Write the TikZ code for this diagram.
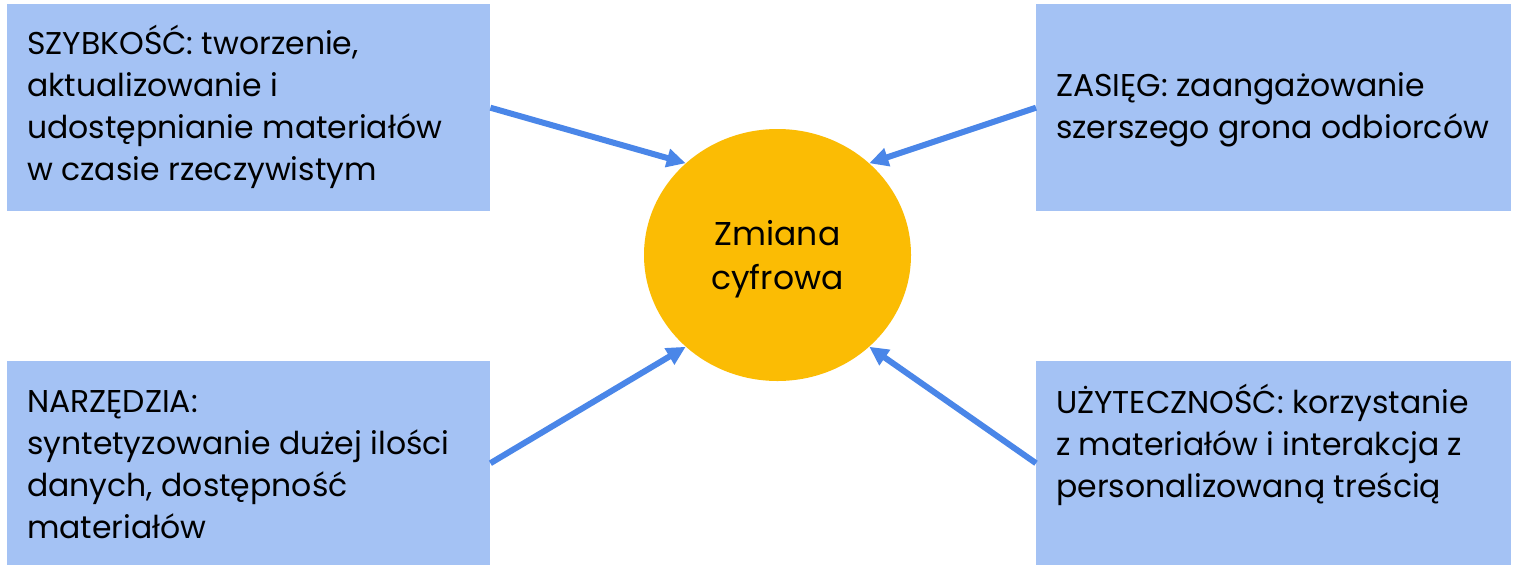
\documentclass[tikz,border=0pt]{standalone}
\usepackage{fontspec}
\setmainfont{Poppins}
\usetikzlibrary{arrows.meta,shapes.geometric}
\definecolor{boxblue}{HTML}{A4C2F4}
\definecolor{arrowblue}{HTML}{4A86E8}
\definecolor{sunyellow}{HTML}{FBBC04}
\begin{document}
\begin{tikzpicture}[x=1pt,y=-1pt,
  infobox/.style={draw=none,fill=boxblue,rectangle,inner sep=0pt,anchor=north west},
  infotext/.style={anchor=base west,align=left,inner sep=0pt,font=\fontsize{31.5}{42}\selectfont},
  hub/.style={ellipse,fill=sunyellow,draw=none,inner sep=0pt,minimum width=267pt,minimum height=252pt,align=center,font=\fontsize{33}{44}\selectfont},
  link/.style={draw=arrowblue,line width=6pt,-{Triangle[length=19pt,width=18pt]}}]
\useasboundingbox (0,0) rectangle (1513,566);
\fill[white] (0,0) rectangle (1513,566);
\node[infobox,minimum width=483pt,minimum height=207pt] (tl) at (7,4) {};
\node[infobox,minimum width=475pt,minimum height=207pt] (tr) at (1036,4) {};
\node[infobox,minimum width=483pt,minimum height=204pt] (bl) at (7,361) {};
\node[infobox,minimum width=475pt,minimum height=204pt] (br) at (1036,361) {};
\node[hub] (c) at (777.5,255) {\rule{0pt}{34pt}Zmiana\\cyfrowa};
\node[infotext] (tlt) at (27,180) {SZYBKOŚĆ: tworzenie,\\aktualizowanie i\\udostępnianie materiałów\\w czasie rzeczywistym};
\node[infotext] (trt) at (1056,138) {ZASIĘG: zaangażowanie\\szerszego grona odbiorców};
\node[infotext] (blt) at (27,538) {NARZĘDZIA:\\syntetyzowanie dużej ilości\\danych, dostępność\\materiałów};
\node[infotext] (brt) at (1056,497) {UŻYTECZNOŚĆ: korzystanie\\z materiałów i interakcja z\\personalizowaną treścią};
\draw[link] (tl.east) -- (c.135);
\draw[link] (tr.west) -- (c.45);
\draw[link] (bl.east) -- (c.225);
\draw[link] (br.west) -- (c.315);
\end{tikzpicture}
\end{document}
